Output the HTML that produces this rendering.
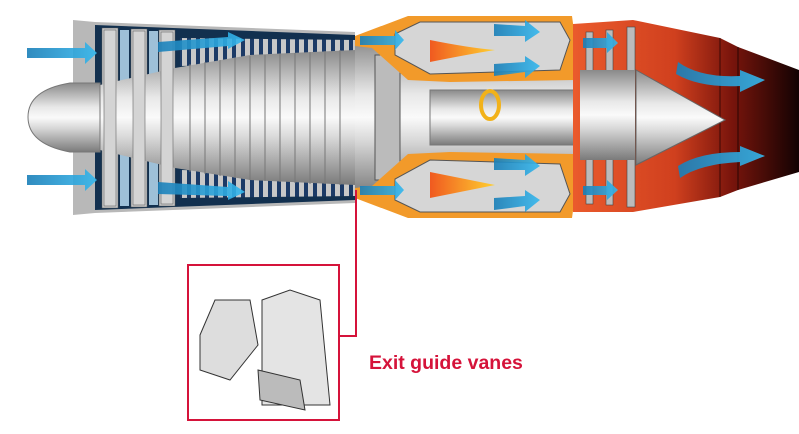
<!DOCTYPE html>
<html><head><meta charset="utf-8"><style>
html,body{margin:0;padding:0;background:#fff;width:799px;height:434px;overflow:hidden}
.t{position:absolute;left:369px;top:352px;font:bold 19.5px "Liberation Sans",Arial,sans-serif;color:#d5133a;white-space:nowrap}
</style></head><body>
<svg width="799" height="434" viewBox="0 0 799 434" style="position:absolute;left:0;top:0">
<defs>
<linearGradient id="gv" x1="0" y1="0" x2="0" y2="1">
<stop offset="0" stop-color="#8a8a8a"/><stop offset="0.35" stop-color="#e8e8e8"/><stop offset="0.5" stop-color="#fafafa"/><stop offset="0.65" stop-color="#d8d8d8"/><stop offset="1" stop-color="#7a7a7a"/></linearGradient>
<linearGradient id="ex" x1="0" y1="0" x2="1" y2="0">
<stop offset="0" stop-color="#ea5a2c"/><stop offset="0.45" stop-color="#d0401e"/><stop offset="0.7" stop-color="#7a150c"/><stop offset="1" stop-color="#120202"/></linearGradient>
<linearGradient id="fl" x1="0" y1="0" x2="1" y2="0">
<stop offset="0" stop-color="#f05a20"/><stop offset="1" stop-color="#ffd030"/></linearGradient>
<linearGradient id="ar" x1="0" y1="0" x2="1" y2="0">
<stop offset="0" stop-color="#1a7fb8"/><stop offset="1" stop-color="#35b8ee"/></linearGradient>
<pattern id="bl" width="9" height="10" patternUnits="userSpaceOnUse"><rect width="9" height="10" fill="#1c3a66"/><rect x="2" y="0" width="5" height="10" fill="#c8c8c8"/></pattern>
</defs>
<path d="M73,20 L95,22 L355,32 L355,203 L95,213 L73,215 Z" fill="#b8b8b8"/>
<path d="M95,25 L355,35 L355,200 L95,210 Z" fill="#12304f"/>
<g fill="#c9c9c9" stroke="#555" stroke-width="0.5">
<rect x="102" y="28" width="16" height="180"/><rect x="131" y="29" width="16" height="178"/><rect x="159" y="30" width="16" height="176"/>
</g>
<g fill="#9ec0d8">
<rect x="120" y="30" width="9" height="176"/><rect x="149" y="31" width="9" height="174"/>
</g>
<path d="M180,38 L355,40 L355,62 L180,66 Z" fill="url(#bl)"/>
<path d="M180,170 L355,174 L355,196 L180,198 Z" fill="url(#bl)"/>
<path d="M100,85 L175,68 L250,55 L355,50 L355,185 L250,180 L175,168 L100,150 Z" fill="url(#gv)"/>
<g stroke="#777" stroke-width="1">
<line x1="190" y1="64" x2="190" y2="172"/><line x1="205" y1="62" x2="205" y2="174"/><line x1="220" y1="60" x2="220" y2="176"/><line x1="235" y1="58" x2="235" y2="178"/><line x1="250" y1="56" x2="250" y2="180"/><line x1="265" y1="55" x2="265" y2="181"/><line x1="280" y1="54" x2="280" y2="182"/><line x1="295" y1="53" x2="295" y2="183"/><line x1="310" y1="52" x2="310" y2="184"/><line x1="325" y1="51" x2="325" y2="184"/><line x1="340" y1="50" x2="340" y2="185"/>
</g>
<g fill="#d4d4d4" stroke="#666" stroke-width="0.6">
<rect x="104" y="30" width="12" height="176"/><rect x="133" y="31" width="12" height="174"/><rect x="161" y="32" width="12" height="172"/>
</g>
<path d="M100,83 L70,83 Q28,90 28,117 Q28,144 70,152 L100,152 Z" fill="url(#gv)" stroke="#777"/>
<path d="M355,40 L575,40 L575,195 L355,195 Z" fill="url(#gv)"/>
<path d="M375,55 L400,55 L400,180 L375,180 Z" fill="#bbb" stroke="#555"/>
<path d="M430,90 L575,90 L575,145 L430,145 Z" fill="url(#gv)" stroke="#777"/>
<path d="M355,36 L408,16 L572,16 L575,38 L575,80 L450,82 L408,80 L372,48 L355,46 Z" fill="#f29a2a"/>
<path d="M395,34 L420,22 L560,22 L570,40 L560,70 L430,74 L395,55 Z" fill="#d6d6d6" stroke="#555"/>
<path d="M430,40 Q470,48 495,50 Q470,54 430,62 Z" fill="url(#fl)"/>
<path d="M355,198 L408,218 L572,218 L575,196 L575,154 L450,152 L408,154 L372,186 L355,188 Z" fill="#f29a2a"/>
<path d="M395,200 L420,212 L560,212 L570,194 L560,164 L430,160 L395,179 Z" fill="#d6d6d6" stroke="#555"/>
<path d="M430,172 Q470,180 495,185 Q470,190 430,198 Z" fill="url(#fl)"/>
<ellipse cx="490" cy="105" rx="9" ry="14" fill="none" stroke="#f2b21a" stroke-width="4"/>
<path d="M573,24 L633,20 L720,38 L738,47 L799,70 L799,172 L738,190 L720,197 L633,212 L573,212 Z" fill="url(#ex)"/>
<line x1="720" y1="38" x2="720" y2="197" stroke="#3a0805" stroke-width="1"/>
<line x1="738" y1="47" x2="738" y2="190" stroke="#2a0503" stroke-width="1"/>
<g fill="#bbb" stroke="#444" stroke-width="0.6">
<rect x="586" y="32" width="7" height="172"/><rect x="606" y="30" width="7" height="175"/><rect x="627" y="27" width="8" height="180"/>
</g>
<path d="M580,70 L635,70 L635,160 L580,160 Z" fill="url(#gv)"/>
<path d="M636,70 L725,120 L636,165 Z" fill="url(#gv)" stroke="#666"/>
<g fill="url(#ar)" opacity="0.9">
<path d="M27,48 L85,48 L85,42 L97,53 L85,64 L85,58 L27,58 Z"/>
<path d="M27,175 L85,175 L85,169 L97,180 L85,191 L85,185 L27,185 Z"/>
<path d="M158,42 L228,37 L228,32 L245,40 L228,49 L228,46 L158,52 Z"/>
<path d="M158,182 L228,187 L228,181 L245,192 L228,200 L228,196 L158,194 Z"/>
<path d="M360,36 L395,36 L395,30 L404,40 L395,50 L395,45 L360,45 Z"/>
<path d="M360,186 L395,186 L395,180 L404,190 L395,200 L395,195 L360,195 Z"/>
<path d="M494,24 L525,26 L525,20 L540,32 L525,42 L525,36 L494,36 Z"/>
<path d="M494,64 L525,62 L525,56 L540,66 L525,78 L525,72 L494,76 Z"/>
<path d="M494,158 L525,160 L525,154 L540,166 L525,176 L525,170 L494,170 Z"/>
<path d="M494,198 L525,196 L525,190 L540,200 L525,212 L525,206 L494,210 Z"/>
<path d="M583,38 L607,38 L607,32 L618,43 L607,53 L607,48 L583,48 Z"/>
<path d="M583,186 L607,186 L607,180 L618,190 L607,200 L607,195 L583,195 Z"/>
<path d="M678,62 Q700,78 740,76 L740,70 L765,80 L740,92 L740,86 Q700,88 676,74 Z"/>
<path d="M678,166 Q700,152 740,152 L740,146 L765,156 L740,166 L740,162 Q700,164 680,178 Z"/>
</g>
<path d="M356,190 L356,336 L339,336" fill="none" stroke="#d5133a" stroke-width="2"/>
<rect x="188" y="265" width="151" height="155" fill="#fff" stroke="#d5133a" stroke-width="2"/>
<g stroke="#333" stroke-width="1" fill="#ddd">
<path d="M200,335 L215,300 L250,300 L258,345 L230,380 L200,370 Z"/>
<path d="M262,300 L290,290 L320,300 L330,405 L262,405 Z" fill="#e4e4e4"/>
<path d="M258,370 L300,380 L305,410 L260,400 Z" fill="#bbb"/>
</g>
</svg>
<div class="t">Exit guide vanes</div>
</body></html>
